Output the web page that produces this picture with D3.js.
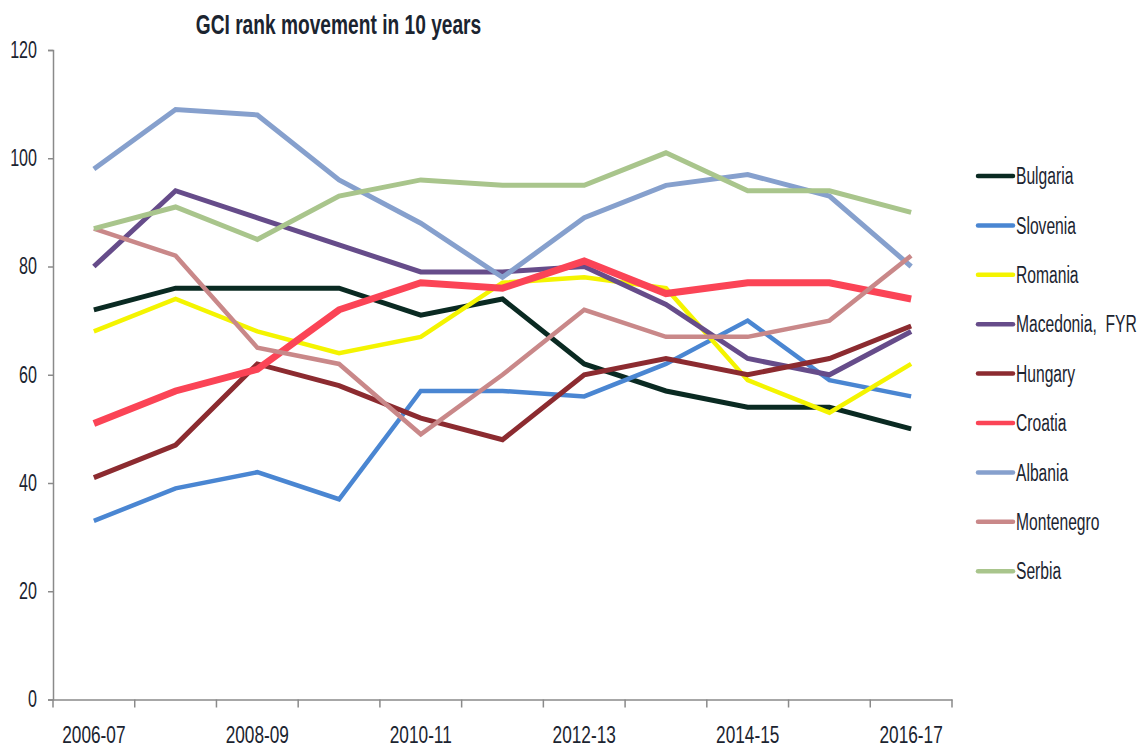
<!DOCTYPE html>
<html>
<head>
<meta charset="utf-8">
<script src="https://cdn.jsdelivr.net/npm/d3@7"></script>
<style>
  html, body { margin: 0; padding: 0; background: #ffffff; }
  svg { display: block; }
  text { font-family: "Liberation Sans", Arial, sans-serif; fill: #1b2430; }
</style>
</head>
<body>
<svg id="chart" width="1141" height="749"></svg>
<script>
// ---- data ----
const title = "GCI rank movement in 10 years";
const categories = ["2006-07","2007-08","2008-09","2009-10","2010-11","2011-12","2012-13","2013-14","2014-15","2015-16","2016-17"];
const xTickLabels = ["2006-07","2008-09","2010-11","2012-13","2014-15","2016-17"];
const yTicks = [0, 20, 40, 60, 80, 100, 120];

const seriesNames = ["Bulgaria","Slovenia","Romania","Macedonia,  FYR","Hungary","Croatia","Albania","Montenegro","Serbia"];
const bulgaria   = [72, 76, 76, 76, 71, 74, 62, 57, 54, 54, 50];
const slovenia   = [33, 39, 42, 37, 57, 57, 56, 62, 70, 59, 56];
const romania    = [68, 74, 68, 64, 67, 77, 78, 76, 59, 53, 62];
const macedonia  = [80, 94, 89, 84, 79, 79, 80, 73, 63, 60, 68];
const hungary    = [41, 47, 62, 58, 52, 48, 60, 63, 60, 63, 69];
const croatia    = [51, 57, 61, 72, 77, 76, 81, 75, 77, 77, 74];
const albania    = [98, 109, 108, 96, 88, 78, 89, 95, 97, 93, 80];
const montenegro = [87, 82, 65, 62, 49, 60, 72, 67, 67, 70, 82];
const serbia     = [87, 91, 85, 93, 96, 95, 95, 101, 94, 94, 90];
const seriesValues = [bulgaria, slovenia, romania, macedonia, hungary, croatia, albania, montenegro, serbia];

// ---- styles ----
const colors = ["#0a2a22", "#4a86d2", "#f4f400", "#664c8a", "#8c2b30", "#fb4456", "#86a0cd", "#c98889", "#a9c58c"];
const widths = [5, 4.5, 4.5, 5, 5, 7, 5, 4.5, 5];
const fontSize = 23, squeeze = 0.75, legendSqueeze = 0.68;

const svg = d3.select("#chart");
const margin = { left: 53, right: 189, top: 50, bottom: 49.5 };
const W = 1141, H = 749;

const x = d3.scaleBand().domain(categories).range([margin.left, W - margin.right]).paddingInner(0).paddingOuter(0);
const y = d3.scaleLinear().domain([0, 120]).range([H - margin.bottom, margin.top]);
const cx = c => x(c) + x.bandwidth() / 2;

const axisColor = "#8a8a8a";

// title
svg.append("text")
  .attr("transform", "translate(338.5,34) scale(0.71,1)")
  .attr("text-anchor", "middle")
  .attr("font-weight", "bold")
  .attr("font-size", 27)
  .text(title);

// y axis
const yAxis = d3.axisLeft(y).tickValues(yTicks).tickSize(5).tickPadding(11);
const gy = svg.append("g").attr("transform", `translate(${margin.left},0)`).call(yAxis);
gy.select(".domain").attr("stroke", axisColor).attr("stroke-width", 1.5);
gy.selectAll(".tick line").attr("stroke", axisColor).attr("stroke-width", 1.5);
gy.selectAll(".tick text")
  .attr("font-size", fontSize).attr("fill", "#1b2430")
  .style("font-family", '"Liberation Sans", Arial, sans-serif')
  .attr("x", function () { return +d3.select(this).attr("x") / 0.7; })
  .attr("transform", "scale(0.7,1)");

// x axis: labels at centers of every other category, ticks at category boundaries
const xAxis = d3.axisBottom(x).tickValues(xTickLabels).tickSize(0).tickPadding(27);
const gx = svg.append("g").attr("transform", `translate(0,${y(0)})`).call(xAxis);
gx.select(".domain").attr("stroke", axisColor).attr("stroke-width", 1.5);
gx.selectAll(".tick text")
  .attr("font-size", fontSize).attr("fill", "#1b2430")
  .style("font-family", '"Liberation Sans", Arial, sans-serif')
  .attr("transform", `scale(${squeeze},1)`);
const boundaries = categories.map(c => x(c)).concat([x(categories[categories.length - 1]) + x.bandwidth()]);
gx.selectAll(".bound").data(boundaries).enter().append("line")
  .attr("class", "bound")
  .attr("x1", d => d).attr("x2", d => d)
  .attr("y1", 0).attr("y2", 8)
  .attr("stroke", axisColor).attr("stroke-width", 1.5);

// lines
const line = d3.line().x((d, i) => cx(categories[i])).y(d => y(d));
seriesValues.forEach((vals, i) => {
  svg.append("path")
    .datum(vals)
    .attr("fill", "none")
    .attr("stroke", colors[i])
    .attr("stroke-width", widths[i])
    .attr("stroke-linejoin", "miter")
    .attr("d", line);
});

// legend
const legendX = 978, legendY0 = 176, legendStep = 49.4;
const lg = svg.append("g");
seriesNames.forEach((name, i) => {
  const ly = legendY0 + i * legendStep;
  lg.append("line")
    .attr("x1", legendX).attr("x2", legendX + 35)
    .attr("y1", ly).attr("y2", ly)
    .attr("stroke", colors[i]).attr("stroke-width", 4.5)
    .attr("stroke-linecap", "round");
  lg.append("text")
    .attr("transform", `translate(${legendX + 38},${ly}) scale(${legendSqueeze},1)`)
    .attr("dy", "0.36em")
    .attr("font-size", fontSize)
    .attr("xml:space", "preserve")
    .style("white-space", "pre")
    .text(name);
});
</script>
</body>
</html>
